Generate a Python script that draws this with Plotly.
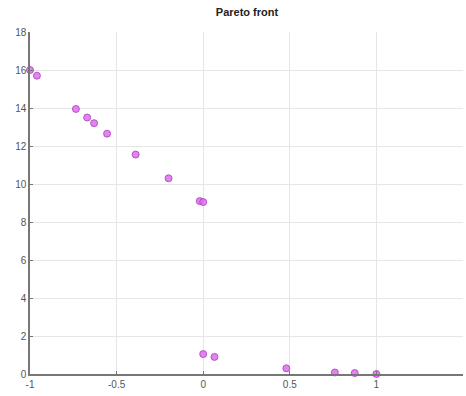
import plotly.graph_objects as go

x_vals = [-1.0, -0.96, -0.735, -0.67, -0.63, -0.555, -0.39, -0.2, -0.02, 0.0, 0.0, 0.065, 0.48, 0.76, 0.875, 1.0]
y_vals = [16.0, 15.7, 13.95, 13.5, 13.2, 12.65, 11.55, 10.3, 9.1, 9.05, 1.05, 0.9, 0.3, 0.08, 0.05, 0.0]
x_ticks = [-1, -0.5, 0, 0.5, 1, 1.5]
x_tick_text = ["-1", "-0.5", "0", "0.5", "1", "1.5"]
y_ticks = [0, 2, 4, 6, 8, 10, 12, 14, 16, 18]

fig = go.Figure(go.Scatter(
    x=x_vals, y=y_vals, mode="markers",
    marker=dict(size=7, color="rgba(220,110,235,0.85)",
                line=dict(color="rgba(170,60,190,0.8)", width=1)),
    showlegend=False, cliponaxis=False))

fig.update_layout(
    width=466, height=396,
    margin=dict(l=30, r=3, t=32, b=22, autoexpand=False),
    paper_bgcolor="white", plot_bgcolor="white",
    title=dict(text="<b>Pareto front</b>", x=0.53, xanchor="center", y=0.978, yanchor="top",
               font=dict(family="Liberation Sans, Arial", size=11, color="#222")),
    font=dict(family="Liberation Sans, Arial", size=10, color="#555"),
)
fig.update_xaxes(range=[-1, 1.5], tickvals=x_ticks, ticktext=x_tick_text, automargin=False,
                 showgrid=True, gridcolor="#e6e6e6", gridwidth=1,
                 showline=True, linecolor="#777", linewidth=1.5,
                 ticks="inside", ticklen=3, tickcolor="#777", zeroline=False)
fig.update_yaxes(range=[0, 18], tickvals=y_ticks, automargin=False,
                 showgrid=True, gridcolor="#e6e6e6", gridwidth=1,
                 showline=True, linecolor="#777", linewidth=1.5,
                 ticks="inside", ticklen=3, tickcolor="#777", zeroline=False)

fig.write_html("out.html", config={"displayModeBar": False},
               post_script="document.body.style.margin='0';document.body.style.overflow='hidden';")
